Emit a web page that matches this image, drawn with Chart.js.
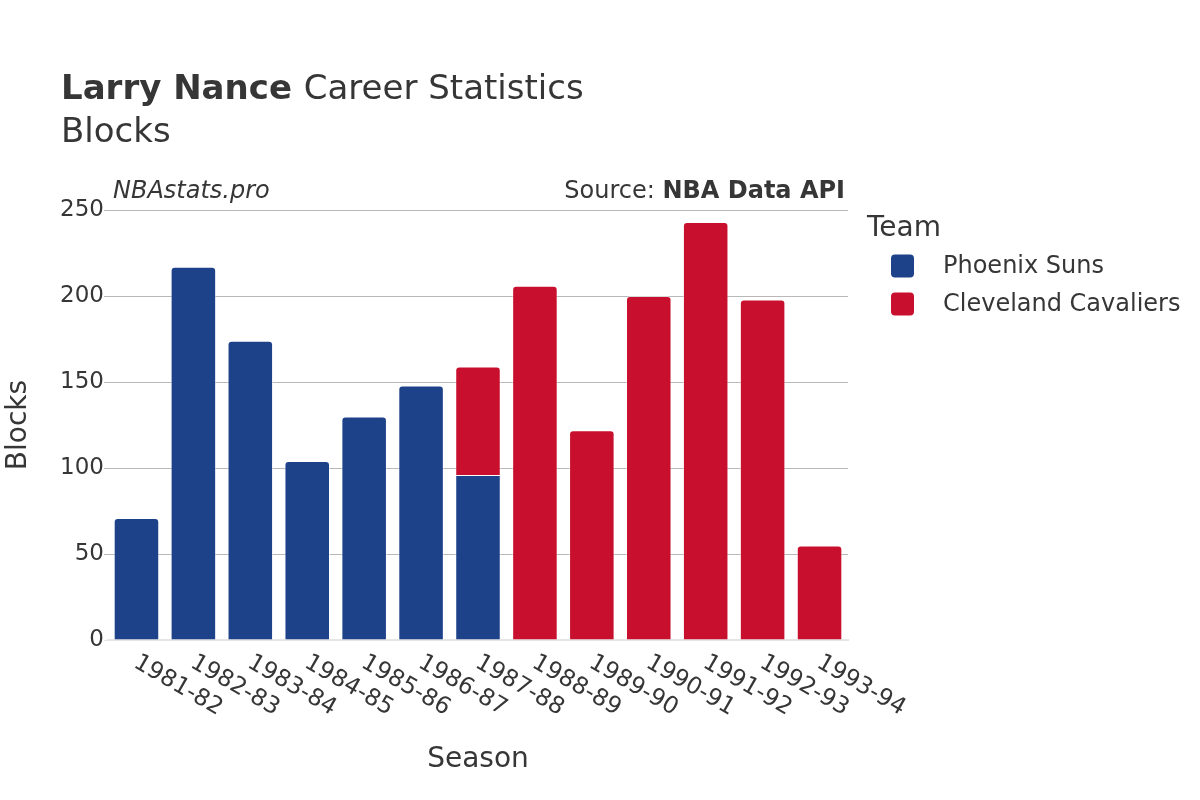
<!DOCTYPE html>
<html>
<head>
<meta charset="utf-8">
<script src="https://cdn.jsdelivr.net/npm/chart.js@4"></script>
<style>
  html, body { margin: 0; padding: 0; background: #ffffff; }
  #wrap { width: 1200px; height: 800px; position: relative; }
</style>
</head>
<body>
<div id="wrap"><canvas id="c" width="1200" height="800"></canvas></div>
<script>
const seasons = ["1981-82","1982-83","1983-84","1984-85","1985-86","1986-87","1987-88","1988-89","1989-90","1990-91","1991-92","1992-93","1993-94"];
const phoenixSuns = [71, 217, 174, 104, 130, 148, 96, null, null, null, null, null, null];
const clevelandCavaliers = [null, null, null, null, null, null, 63, 206, 122, 200, 243, 198, 55];
const yTicks = [0, 50, 100, 150, 200, 250];

const FONT = "'DejaVu Sans', sans-serif";
const TXT = '#363636';

const datasetsData = [phoenixSuns, clevelandCavaliers];
function radiusFor(ctx) {
  const di = ctx.datasetIndex, i = ctx.dataIndex;
  for (let k = di + 1; k < datasetsData.length; k++) {
    if (datasetsData[k][i] != null) return 0;
  }
  return 4;
}

const decor = {
  id: 'decor',
  afterDraw(chart) {
    const c = chart.ctx;
    c.save();
    c.fillStyle = TXT;
    c.textBaseline = 'middle';
    // Title
    c.textAlign = 'left';
    c.font = "bold 34px " + FONT;
    const t1 = "Larry Nance";
    c.fillText(t1, 61, 90);
    const w1 = c.measureText(t1 + " ").width;
    c.font = "34px " + FONT;
    c.fillText("Career Statistics", 61 + w1, 90);
    c.fillText("Blocks", 61, 133);
    // Annotations
    c.font = "italic 24px " + FONT;
    c.fillText("NBAstats.pro", 113, 192);
    c.textAlign = 'right';
    c.font = "bold 24px " + FONT;
    const src2 = "NBA Data API";
    c.fillText(src2, 845, 192);
    const w2 = c.measureText(src2).width;
    c.font = "24px " + FONT;
    c.fillText("Source: ", 845 - w2, 192);
    // X tick labels (rotated)
    const xs = chart.scales.x;
    c.font = "23.5px " + FONT;
    c.textAlign = 'left';
    seasons.forEach((s, i) => {
      const px = xs.getPixelForValue(i);
      c.save();
      c.translate(px - 1, 661);
      c.rotate(Math.PI / 6);
      c.fillText(s, 0, 0);
      c.restore();
    });
    // Legend
    c.textAlign = 'left';
    c.font = "28px " + FONT;
    c.fillText("Team", 867, 229);
    c.font = "24px " + FONT;
    const items = chart.data.datasets;
    items.forEach((ds, k) => {
      const cy = 266 + k * 38;
      c.fillStyle = ds.backgroundColor;
      c.beginPath();
      c.roundRect(891, cy - 11.5, 23, 23, 4);
      c.fill();
      c.fillStyle = TXT;
      c.fillText(ds.label, 943, cy + 1);
    });
    c.restore();
  }
};

new Chart(document.getElementById('c'), {
  type: 'bar',
  data: {
    labels: seasons,
    datasets: [
      { label: 'Phoenix Suns', data: phoenixSuns, backgroundColor: '#1D428A',
        borderColor: 'rgba(255,255,255,0.45)', borderWidth: 1, borderRadius: radiusFor, borderSkipped: 'start' },
      { label: 'Cleveland Cavaliers', data: clevelandCavaliers, backgroundColor: '#C8102E',
        borderColor: 'rgba(255,255,255,0.45)', borderWidth: 1, borderRadius: radiusFor, borderSkipped: 'start' }
    ]
  },
  options: {
    responsive: false,
    animation: false,
    devicePixelRatio: 1,
    layout: { padding: { top: 210, left: 0, right: 352, bottom: 0 } },
    plugins: { legend: { display: false }, title: { display: false }, tooltip: { enabled: false } },
    datasets: { bar: { barPercentage: 0.8, categoryPercentage: 1.0 } },
    scales: {
      x: {
        stacked: true,
        grid: { display: false },
        border: { display: true, color: '#e6e6e6', width: 2 },
        ticks: { display: false },
        title: { display: true, text: 'Season', font: { family: FONT, size: 28 }, color: TXT, padding: { top: 0, bottom: 23 } },
        afterFit(scale) { scale.height = 160; }
      },
      y: {
        stacked: true,
        min: 0, max: 250,
        afterBuildTicks(scale) { scale.ticks = yTicks.map(v => ({ value: v })); },
        grid: {
          color: (ctx) => (ctx.tick && ctx.tick.value === 0) ? '#e6e6e6' : '#b8b8b8',
          lineWidth: 1,
          tickLength: 4,
          drawTicks: true
        },
        border: { display: false },
        ticks: { font: { family: FONT, size: 23 }, color: TXT, padding: 0 },
        title: { display: true, text: 'Blocks', font: { family: FONT, size: 28 }, color: TXT, padding: { top: 2, bottom: 0 } },
        afterFit(scale) { scale.width = 108; }
      }
    }
  },
  plugins: [decor]
});
</script>
</body>
</html>
